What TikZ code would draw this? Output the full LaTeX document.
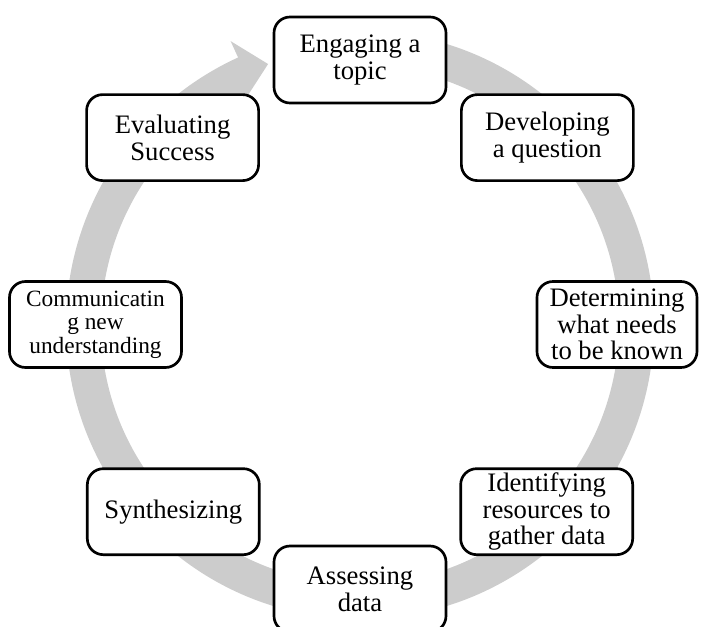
\documentclass[tikz,border=0pt]{standalone}
\usepackage{fontspec}
\setmainfont{Liberation Serif}
\usetikzlibrary{positioning, calc}

\definecolor{ringgray}{RGB}{204,204,204}

\tikzset{
    stage/.style={draw=black, line width=2pt, rounded corners=12pt, fill=white,
        minimum width=129pt, minimum height=64.5pt, inner sep=0pt,
        align=center, font=\fontsize{20}{20}\selectfont},
}

\begin{document}
\begin{tikzpicture}[x=0.75pt, y=0.75pt]
    \useasboundingbox (-360,-301) rectangle (342,325);

    % Grey ring with its head at the top
    \fill[ringgray] (88:294) arc[start angle=88, end angle=-245.5, radius=294]
        -- (114.5:312) -- (109.4:276.7) -- (122:241.7) -- (122:259)
        arc[start angle=122, end angle=448, radius=259] -- cycle;

    % Stages round the cycle
    \node[stage] (engage) at (90:265) {Engaging a\\topic};
    \node[stage] (develop) at (45:265) {Developing\\a question};
    \node[stage, minimum width=120pt] (determine) at (257,0.5) {Determining\\what needs\\to be known};
    \node[stage] (identify) at (-45:264) {Identifying\\resources to\\gather data};
    \node[stage] (assess) at (-90:264) {Assessing\\data};
    \node[stage] (synth) at (-135:264) {Synthesizing};
    \node[stage, font=\fontsize{17.5}{17.5}\selectfont] (communicate) at (-264.5,0.5) {Communicatin\\g new\\understanding};
    \node[stage] (evaluate) at (135:265) {Evaluating\\Success};
\end{tikzpicture}
\end{document}
